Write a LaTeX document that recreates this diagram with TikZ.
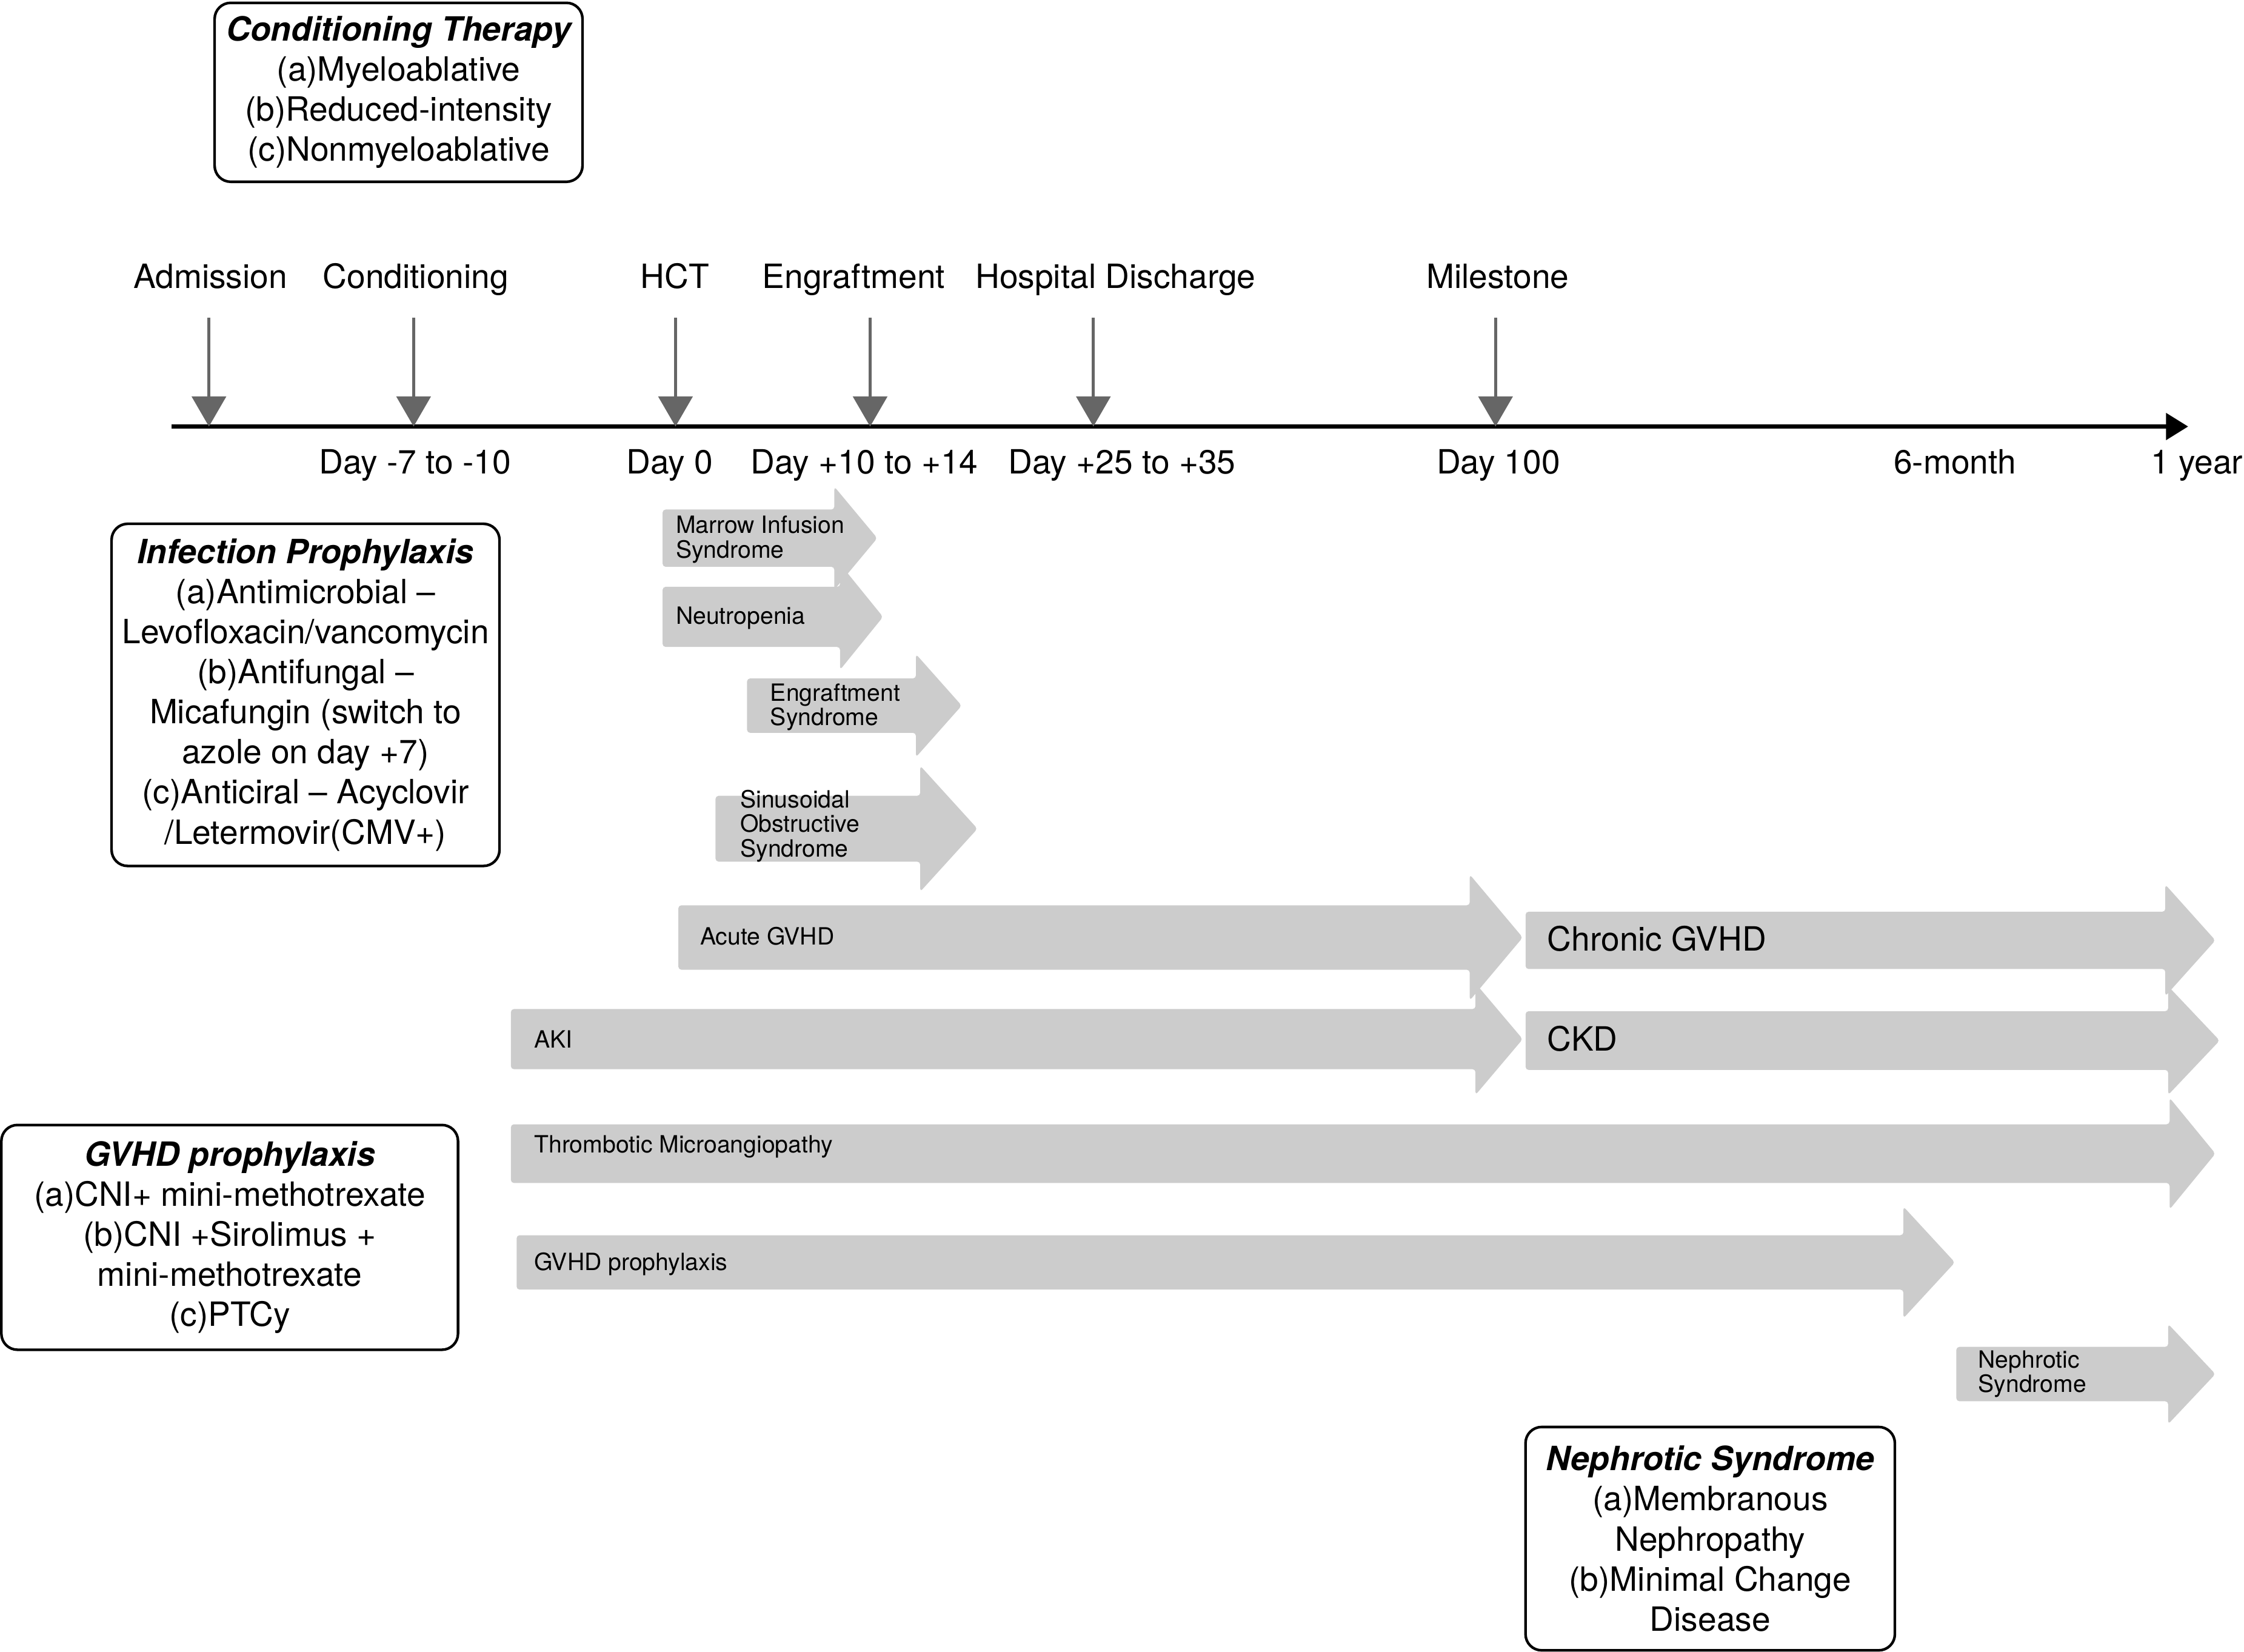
\documentclass[tikz,border=0pt]{standalone}
\usepackage{fontspec}
\setmainfont{TeX Gyre Heros}
\usetikzlibrary{arrows.meta}
\definecolor{evgray}{HTML}{666666}
\definecolor{bargray}{HTML}{CCCCCC}

\begin{document}
\begin{tikzpicture}[x=0.025cm,y=-0.025cm,
    biglab/.style={font=\fontsize{16.6}{19.9}\selectfont,inner sep=0pt,text height=11.8pt,text depth=3.5pt},
    smalllab/.style={font=\fontsize{11.8}{12.2}\selectfont,inner sep=0pt,anchor=west,align=left},
    infobox/.style={draw,line width=1.3pt,rounded corners=8pt,align=center,font=\fontsize{16.6}{19.9}\selectfont},
    evarrow/.style={draw=evgray,line width=1.4pt,-{Triangle[length=15pt,width=17pt]},shorten <=11pt},
    bararrow/.style={fill=bargray,rounded corners=1.5pt}]

        \useasboundingbox (0,0) rectangle (1568,1154);

        % time axis
        \coordinate (axstart) at (120,298);
        \coordinate (axend) at (1529,298);
        \draw[line width=2.1pt,-{Triangle[length=11pt,width=13pt]}] (axstart) -- (axend);

        % events above the axis
        \foreach \x/\lx/\nm/\txt in {146/147/adm/Admission, 289/290.5/cond/Conditioning, 472/471.5/hct/HCT,
                                     608/596.5/engr/Engraftment, 764/779.5/disch/Hospital Discharge, 1045/1046.5/mile/Milestone} {
          \node[biglab] (\nm) at (\lx,195.5) {\txt};
          \coordinate (\nm-t) at (\x,298);
          \draw[evarrow] (\nm.south -| \nm-t) -- (\nm-t);
        }

        % days below the axis
        \foreach \lx/\nm/\txt in {290/d1/Day -7 to -10, 468/d2/Day 0, 604/d3/Day +10 to +14, 784/d4/Day +25 to +35,
                                  1047/d5/Day 100, 1366/d6/6-month, 1535/d7/1 year} {
          \node[biglab] (\nm) at (\lx,325) {\txt};
        }

        % grey block arrows: start, head base, tip, centre, half body, half head
        \foreach \xa/\xb/\xt/\yc/\bh/\hh in {463/583/613/376/20/36, 463/587/617/431/21/37, 522/640/672/493/19/36,
                                             500/643/683/579/23/44, 474/1027/1064/655/22.5/44, 1066/1513/1548/657/20/39,
                                             357/1031/1064/726/21/39, 1066/1515/1551/727/20.5/38, 357/1516/1548/806/20.5/39,
                                             361/1330/1366/882/19/39, 1367/1515/1548/960/19/35} {
          \fill[bararrow] (\xa,\yc-\bh) -- (\xb,\yc-\bh) -- (\xb,\yc-\hh) -- (\xt,\yc)
                          -- (\xb,\yc+\hh) -- (\xb,\yc+\bh) -- (\xa,\yc+\bh) -- cycle;
        }

        \node[smalllab] (mis) at (472,377) {Marrow Infusion\\Syndrome};
        \node[smalllab] (neut) at (472,432) {Neutropenia};
        \node[smalllab] (es) at (538,494) {Engraftment\\Syndrome};
        \node[smalllab] (sos) at (517,577) {Sinusoidal\\Obstructive\\Syndrome};
        \node[smalllab] (agvhd) at (489,654) {Acute GVHD};
        \node[biglab,anchor=west] (cgvhd) at (1081,658.5) {Chronic GVHD};
        \node[smalllab] (aki) at (373,726) {AKI};
        \node[biglab,anchor=west] (ckd) at (1081,728.5) {CKD};
        \node[smalllab] (tma) at (373,801) {Thrombotic Microangiopathy};
        \node[smalllab] (gp) at (373,883) {GVHD prophylaxis};
        \node[smalllab] (ns) at (1382,960) {Nephrotic\\Syndrome};

        % boxes
        \node[infobox,minimum width=6.425cm,minimum height=3.125cm] (condbox) at (278.5,64.5)
          {{\bfseries\itshape Conditioning Therapy}\\(a)Myeloablative\\(b)Reduced-intensity\\(c)Nonmyeloablative};
        \node[infobox,minimum width=6.775cm,minimum height=5.975cm] (infbox) at (213.5,485.5)
          {{\bfseries\itshape Infection Prophylaxis}\\(a)Antimicrobial –\\Levofloxacin/vancomycin\\(b)Antifungal –\\Micafungin (switch to\\azole on day +7)\\(c)Anticiral – Acyclovir\\/Letermovir(CMV+)};
        \node[infobox,minimum width=7.975cm,minimum height=3.925cm] (gvhdbox) at (160.5,864.5)
          {{\bfseries\itshape GVHD prophylaxis}\\(a)CNI+ mini-methotrexate\\(b)CNI +Sirolimus +\\mini-methotrexate\\(c)PTCy};
        \node[infobox,minimum width=6.45cm,minimum height=3.9cm] (nsbox) at (1195,1075)
          {{\bfseries\itshape Nephrotic Syndrome}\\(a)Membranous\\Nephropathy\\(b)Minimal Change\\Disease};
\end{tikzpicture}
\end{document}
